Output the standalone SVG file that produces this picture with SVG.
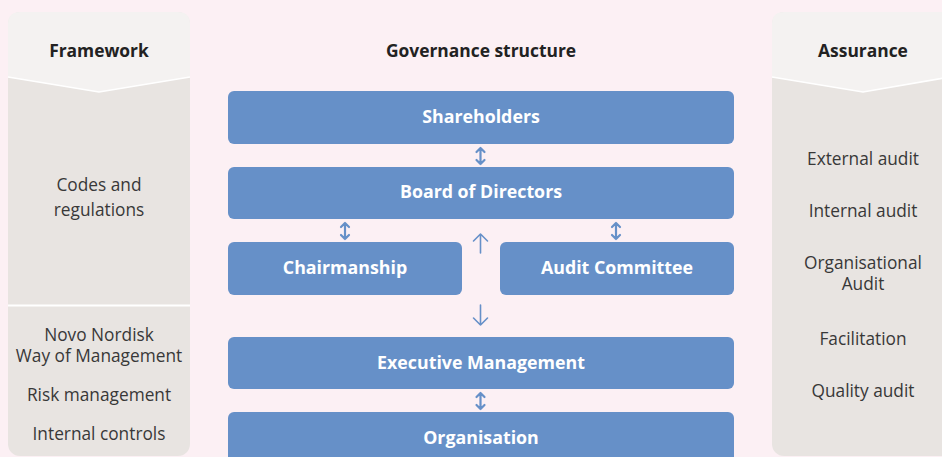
<svg xmlns="http://www.w3.org/2000/svg" width="942" height="457" viewBox="0 0 942 457">
<style>
.box{fill:#6690C8;}
.bl{font-family:"Open Sans","Liberation Sans",sans-serif;font-size:17.8px;font-weight:bold;fill:#ffffff;text-anchor:middle;}
.hd{font-family:"Open Sans","Liberation Sans",sans-serif;font-size:17.4px;font-weight:bold;fill:#222222;text-anchor:middle;}
.tx{font-family:"Open Sans","Liberation Sans",sans-serif;font-size:17.3px;fill:#383838;text-anchor:middle;}
.ar{stroke:#6690C8;stroke-width:1.6;fill:none;stroke-linecap:round;stroke-linejoin:round;}
.ad{stroke:#6690C8;stroke-width:2.2;fill:none;stroke-linecap:round;stroke-linejoin:round;}
</style>
<rect x="0" y="0" width="942" height="457" fill="#FCF0F4"/>
<g id="framework">
<rect x="8" y="12" width="182" height="444" rx="12" fill="#E8E4E1"/>
<path d="M8,77 L8,24 Q8,12 20,12 L178,12 Q190,12 190,24 L190,77 L99,92 Z" fill="#F4F2F1"/>
<path d="M8,77 L99,92 L190,77" stroke="#ffffff" stroke-width="1.5" fill="none"/>
<line x1="8" y1="305.5" x2="190" y2="305.5" stroke="#ffffff" stroke-width="2"/>
<text class="hd" x="99" y="57">Framework</text>
<text class="tx" x="99" y="191">Codes and</text>
<text class="tx" x="99" y="216">regulations</text>
<text class="tx" x="99" y="341">Novo Nordisk</text>
<text class="tx" x="99" y="362">Way of Management</text>
<text class="tx" x="99" y="401">Risk management</text>
<text class="tx" x="99" y="440">Internal controls</text>
</g>
<g id="assurance">
<rect x="772" y="12" width="190" height="444" rx="12" fill="#E8E4E1"/>
<path d="M772,77 L772,24 Q772,12 784,12 L950,12 L950,77 L863,92 Z" fill="#F4F2F1"/>
<path d="M772,77 L863,92 L950,77" stroke="#ffffff" stroke-width="1.5" fill="none"/>
<text class="hd" x="863" y="57">Assurance</text>
<text class="tx" x="863" y="165">External audit</text>
<text class="tx" x="863" y="217">Internal audit</text>
<text class="tx" x="863" y="269">Organisational</text>
<text class="tx" x="863" y="290">Audit</text>
<text class="tx" x="863" y="345">Facilitation</text>
<text class="tx" x="863" y="397">Quality audit</text>
</g>
<g id="title">
<text class="hd" x="481" y="57">Governance structure</text>
</g>
<g id="shareholders">
<rect class="box" x="228" y="91" width="506" height="53" rx="6"/>
<text class="bl" x="481" y="123">Shareholders</text>
</g>
<g id="board">
<rect class="box" x="228" y="167" width="506" height="52" rx="6"/>
<text class="bl" x="481" y="198">Board of Directors</text>
</g>
<g id="chairmanship">
<rect class="box" x="228" y="242" width="234" height="53" rx="6"/>
<text class="bl" x="345" y="274">Chairmanship</text>
</g>
<g id="audit-committee">
<rect class="box" x="500" y="242" width="234" height="53" rx="6"/>
<text class="bl" x="617" y="274">Audit Committee</text>
</g>
<g id="executive">
<rect class="box" x="228" y="337" width="506" height="52" rx="6"/>
<text class="bl" x="481" y="369">Executive Management</text>
</g>
<g id="organisation">
<rect class="box" x="228" y="412" width="506" height="60" rx="6"/>
<text class="bl" x="481" y="444">Organisation</text>
</g>
<g id="connectors">
<path class="ad" d="M480.5,148 V164 M476.5,152 L480.5,148 L484.5,152 M476.5,160 L480.5,164 L484.5,160"/>
<path class="ad" d="M345,223 V239 M341,227 L345,223 L349,227 M341,235 L345,239 L349,235"/>
<path class="ad" d="M616,223 V239 M612,227 L616,223 L620,227 M612,235 L616,239 L620,235"/>
<path class="ad" d="M480.5,393 V409 M476.5,397 L480.5,393 L484.5,397 M476.5,405 L480.5,409 L484.5,405"/>
<path class="ar" d="M480.5,234 V253 M473.5,241 L480.5,234 L487.5,241"/>
<path class="ar" d="M480.5,305 V325 M473.5,318 L480.5,325 L487.5,318"/>
</g>
</svg>
